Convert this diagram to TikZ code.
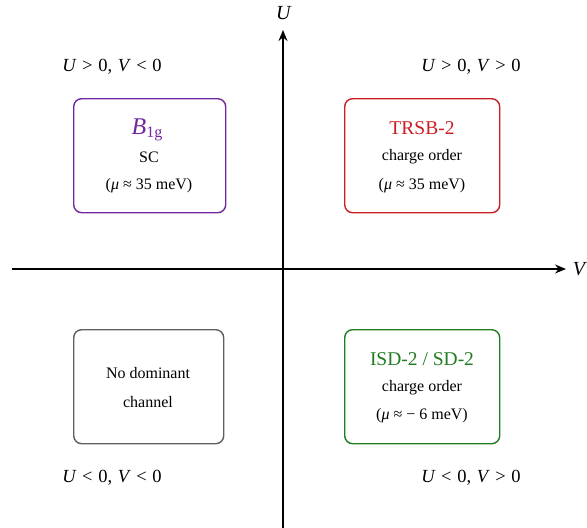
\documentclass[tikz,border=0pt]{standalone}
\usepackage{fontspec}
\setmainfont{Liberation Serif}
\usetikzlibrary{arrows.meta}
\definecolor{cpurple}{RGB}{112,40,160}
\definecolor{cred}{RGB}{204,30,36}
\definecolor{cgreen}{RGB}{34,124,34}
\definecolor{cgray}{RGB}{95,95,95}
\newcommand{\qs}{\hspace{5.6pt}}
\tikzset{
  regionbox/.style={draw, rounded corners=8pt, line width=1.4pt, minimum width=152pt, minimum height=114pt, anchor=north west},
  axisline/.style={line width=1.5pt, -{Stealth[length=11pt,width=9pt]}},
  txt/.style={font=\fontsize{16}{18}\selectfont, anchor=center},
  ttl/.style={font=\fontsize{19.5}{22}\selectfont, anchor=center},
  quad/.style={font=\fontsize{18.5}{20}\selectfont, anchor=center},
}
\begin{document}
\begin{tikzpicture}[x=1pt,y=-1pt]
\useasboundingbox (0,0) rectangle (587,528);
% axes
\coordinate (xl) at (12,269);
\coordinate (xr) at (566,269);
\coordinate (yb) at (283,528);
\coordinate (yt) at (283,30);
\draw[axisline] (xl) -- (xr);
\draw[axisline] (yb) -- (yt);
\node[quad, font=\fontsize{20}{22}\selectfont] (Vlab) at (580,269) {\textit{V}};
\node[quad, font=\fontsize{20}{22}\selectfont] (Ulab) at (284,13) {\textit{U}};
% quadrant labels
\node[quad] (q1) at (112,67) {\textit{U}\qs>\qs0,\qs\textit{V}\qs<\qs0};
\node[quad] (q2) at (471,67) {\textit{U}\qs>\qs0,\qs\textit{V}\qs>\qs0};
\node[quad] (q3) at (112,478) {\textit{U}\qs<\qs0,\qs\textit{V}\qs<\qs0};
\node[quad] (q4) at (471,478) {\textit{U}\qs<\qs0,\qs\textit{V}\qs>\qs0};
% boxes
\node[regionbox, draw=cpurple] (b1) at (73,98) {};
\node[regionbox, draw=cred, minimum width=155pt] (b2) at (344,98) {};
\node[regionbox, draw=cgray, minimum width=150pt] (b3) at (73,329) {};
\node[regionbox, draw=cgreen, minimum width=155pt] (b4) at (344,329) {};
% box texts
\node[anchor=center, text=cpurple] (t1) at (147,130) {\fontsize{24}{26}\selectfont\textit{B}\raisebox{-0.3ex}{\fontsize{16}{17}\selectfont 1g}};
\node[txt] (s1) at (149,157) {SC};
\node[txt] (m1) at (149,186) {(\textit{μ} ≈ 35 meV)};
\node[ttl, text=cred] (t2) at (422,128) {TRSB-2};
\node[txt] (s2) at (422,157) {charge order};
\node[txt] (m2) at (422,186) {(\textit{μ} ≈ 35 meV)};
\node[txt] (t3) at (148,373) {No dominant};
\node[txt] (s3) at (148,402) {channel};
\node[ttl, text=cgreen] (t4) at (422,359) {ISD-2 / SD-2};
\node[txt] (s4) at (422,388) {charge order};
\node[txt] (m4) at (422,416) {(\textit{μ} ≈ − 6 meV)};
\end{tikzpicture}
\end{document}
